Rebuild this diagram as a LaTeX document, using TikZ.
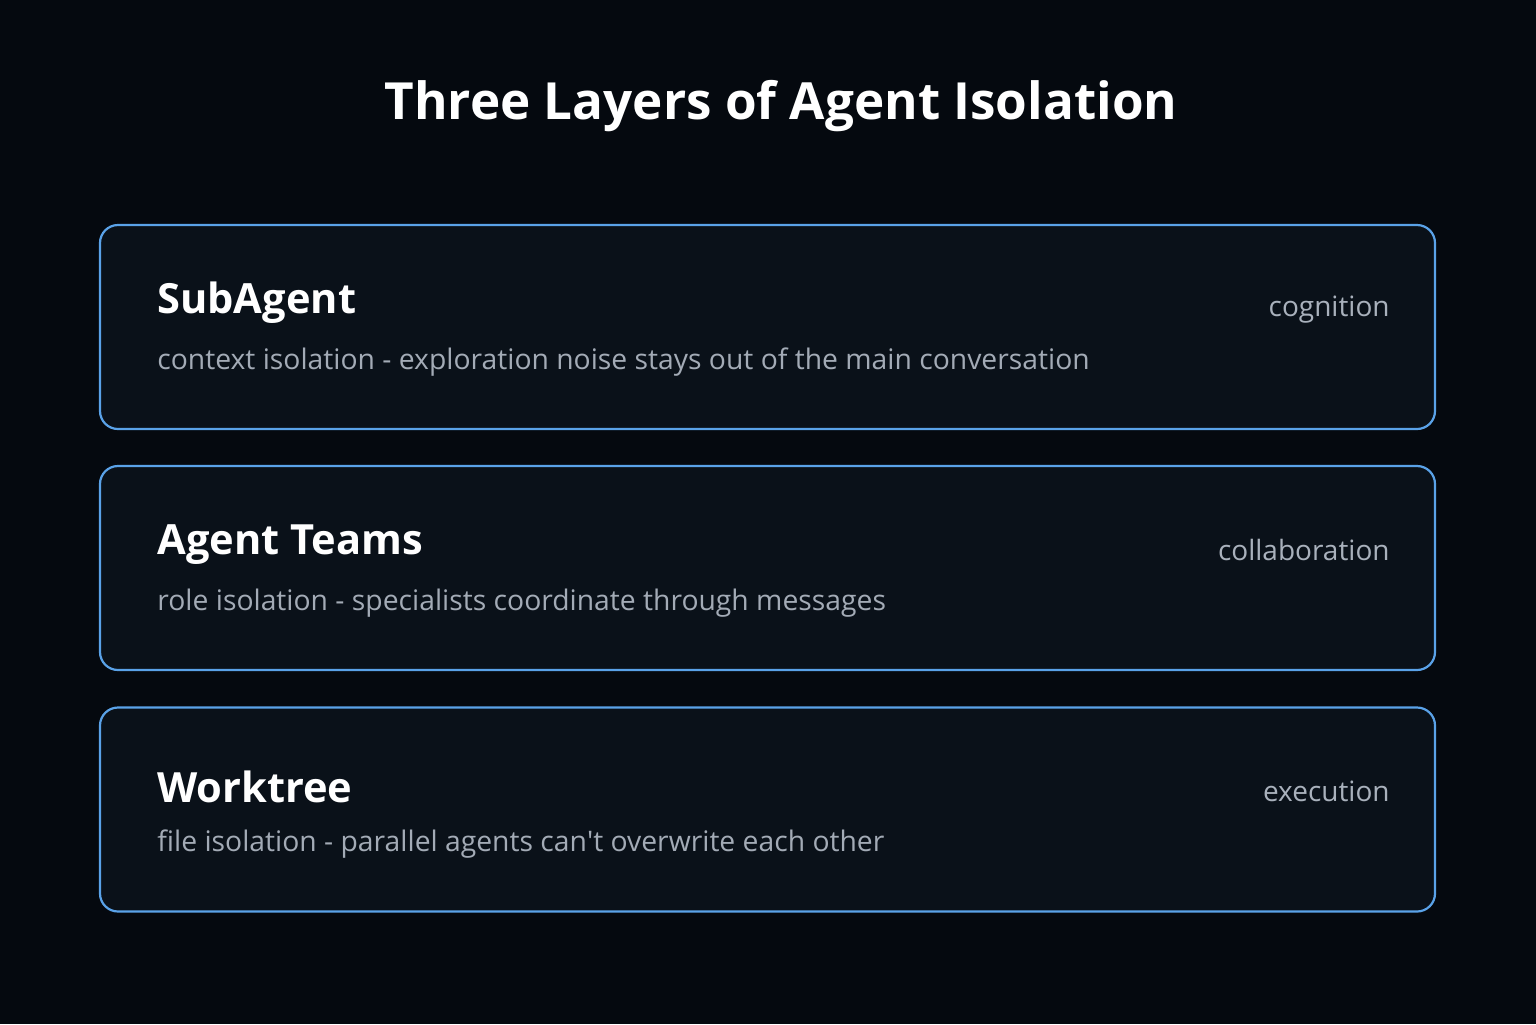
\documentclass[tikz,border=0pt]{standalone}
\usepackage{fontspec}
\setmainfont{Open Sans}
\newfontfamily\plainquote{Open Sans}[Ligatures=ResetAll]
\definecolor{bg}{HTML}{05090F}
\definecolor{boxfill}{HTML}{0A1119}
\definecolor{boxline}{HTML}{5AA2E8}
\definecolor{subtxt}{HTML}{A3ABB6}
\definecolor{tagtxt}{HTML}{A9B1BC}
\begin{document}
\begin{tikzpicture}[x=0.5pt,y=-0.5pt,
  layer/.style={draw=boxline,line width=1.1pt,fill=boxfill,rounded corners=9pt,minimum width=667.5pt,minimum height=102pt,inner sep=0pt},
  head/.style={anchor=west,text=white,font=\fontsize{20.8}{25}\selectfont\bfseries,inner sep=0pt},
  desc/.style={anchor=west,text=subtxt,font=\fontsize{14.15}{17}\selectfont,inner sep=0pt},
  tag/.style={anchor=east,text=tagtxt,font=\fontsize{14}{17}\selectfont,inner sep=0pt}]
\fill[bg] (0,0) rectangle (1536,1024);
\useasboundingbox (0,0) rectangle (1536,1024);
\node[text=white,font=\fontsize{25.6}{30}\selectfont\bfseries] (title) at (781,106) {Three Layers of Agent Isolation};
\node[layer] (l1) at (767.5,327) {};
\node[layer] (l2) at (767.5,568) {};
\node[layer] (l3) at (767.5,809.5) {};
\node[head] (h1) at (157,303) {SubAgent};
\node[desc] (d1) at (157,362) {context isolation - exploration noise stays out of the main conversation};
\node[tag] (t1) at (1390,310) {cognition};
\node[head] (h2) at (157,545) {Agent Teams};
\node[desc] (d2) at (157,603) {role isolation - specialists coordinate through messages};
\node[tag] (t2) at (1390,550) {collaboration};
\node[head] (h3) at (157,787) {Worktree};
\node[desc] (d3) at (157,844) {file isolation - parallel agents can{\plainquote '}t overwrite each other};
\node[tag] (t3) at (1390,791) {execution};
\end{tikzpicture}
\end{document}
